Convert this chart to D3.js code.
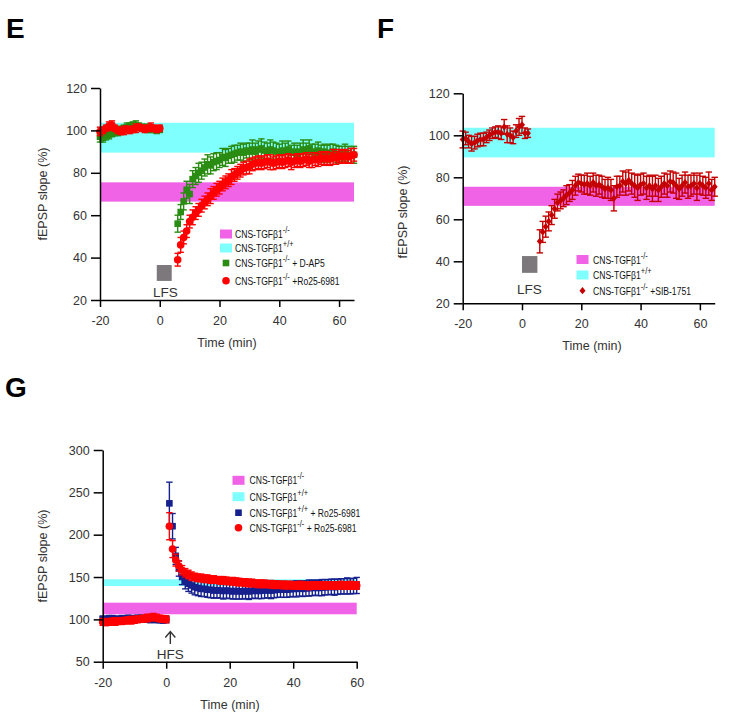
<!DOCTYPE html>
<html><head><meta charset="utf-8">
<script src="https://cdn.jsdelivr.net/npm/d3@7"></script>
<style>body{margin:0;background:#fff}svg{display:block}</style>
</head><body><script>
// ---------------- DATA ----------------
const xTicksEF = [-20, 0, 20, 40, 60];
const yTicksEF = [20, 40, 60, 80, 100, 120];
const xTicksG = [-20, 0, 20, 40, 60];
const yTicksG = [50, 100, 150, 200, 250, 300];

// reference bands [low, high] (% of baseline)
const bandKO_EF = [66.4, 75.5];   // CNS-TGFβ1 -/-
const bandWT_EF = [89.5, 103.6];  // CNS-TGFβ1 +/+
const bandKO_G = [106, 119.7];
const bandWT_G = [139.4, 147.3];

// Panel E
const timeE_pre = d3.range(-20, 1);      // -20 .. 0
const timeE_post = d3.range(6, 66);      // 6 .. 65
const greenE_pre = [97, 96.5, 97.5, 98, 98.5, 99, 99.5, 100.5, 101, 101.5, 102, 102.5, 102.5, 102, 101.5, 101, 101, 100.5, 100.5, 100, 100.5];
const greenE_preErr = [2.5, 2, 2, 2, 1.5, 1.5, 2, 1.5, 1.5, 2, 1.5, 1.5, 2, 1.5, 1.5, 1.5, 2, 1.5, 1.5, 1.5, 1.5];
const greenE_post = [56, 61.5, 66.5, 72, 70, 77, 78.5, 80, 81, 82.5, 84, 83.5, 85, 85.5, 86, 87.5, 87, 88, 88.5, 89, 89.5, 90, 89.5, 90.5, 90, 91, 90, 91, 91.5, 90.5, 90, 91, 90.5, 90, 89.5, 90.5, 90, 91, 89.5, 90, 89, 90, 91, 90, 91.5, 90, 89.5, 90.5, 89, 90, 89, 89.5, 90, 89, 88.5, 89, 89.5, 88.5, 88, 88.5];
const greenE_postErr = [4, 3.5, 4, 4, 4.5, 4, 4, 4.5, 4, 4, 4.5, 4, 4, 4, 3.5, 4, 4, 3.5, 4, 4, 3.5, 4, 4, 3.5, 4, 4.5, 4, 4, 4.5, 4, 4, 4.5, 4, 4, 4, 4.5, 4, 4, 3.5, 4, 4, 4, 4.5, 4, 4, 3.5, 4, 4, 4, 3.5, 4, 4, 3.5, 4, 4, 3.5, 4, 4, 3.5, 4];
const redE_pre = [99.5, 100, 101, 102, 102.5, 101, 100, 99.5, 100, 100.5, 100, 100.5, 101, 101.5, 101, 100.5, 101, 101.5, 101, 100.5, 101];
const redE_preErr = [2, 1.5, 1.5, 2, 2, 1.5, 1.5, 1.5, 2, 1.5, 1.5, 1.5, 2, 1.5, 1.5, 1.5, 1.5, 2, 1.5, 1.5, 1.5];
const redE_post = [39, 46, 49.5, 52.5, 57, 59, 61, 62.5, 64.5, 66, 67.5, 69, 70.5, 72, 73, 74.5, 75.5, 76.5, 78, 79, 80, 81, 82, 82.5, 83, 84, 84.5, 85, 84.5, 85, 85.5, 85, 84.5, 85, 85.5, 85, 85.5, 86, 85, 85.5, 86, 85.5, 86, 86.5, 85.5, 86, 86.5, 86, 87, 86.5, 87, 86.5, 87.5, 87, 88, 87.5, 88, 87.5, 88, 88.5];
const redE_postErr = [3, 3.5, 3, 3, 3, 3.5, 3, 3, 3, 3, 3, 3.5, 3, 3, 3, 3, 3, 3, 3.5, 3, 3, 3, 3, 3, 3.5, 3, 3, 3, 3, 3, 3, 3.5, 3, 3, 3, 3, 3, 3, 3.5, 3, 3, 3, 3, 3, 3, 3.5, 3, 3, 3, 3, 3, 3, 3.5, 3, 3, 3, 3, 3, 3.5, 3];

// Panel F
const timeF_pre = d3.range(-20, 3);      // -20 .. 2
const timeF_post = d3.range(6, 66);
const sibF_pre = [98, 98.5, 97, 96, 96.5, 97.5, 98, 98, 99, 100, 101, 101.5, 101.5, 101, 104, 100.5, 100, 99, 102, 104, 105, 101, 101];
const sibF_preErr = [4, 3, 3, 3.5, 3, 3, 3, 3, 2.5, 2.5, 2.5, 2.5, 3, 3, 3.5, 4, 3.5, 3, 3, 4, 4, 2.5, 2];
const sibF_post = [49.5, 54, 56.5, 59, 62, 65, 68, 69, 70, 71.5, 72.5, 74, 76, 77.5, 77, 76.5, 77, 76, 77.5, 76, 76.5, 75.5, 74.5, 75, 74, 70, 75.5, 76, 78, 77, 78.5, 77, 76, 75, 76.5, 77, 75, 76, 74.5, 76, 74, 75.5, 77, 76, 78, 77.5, 76, 74.5, 76, 77.5, 75.5, 76, 77, 75, 77, 76, 75, 77, 74, 75.5];
const sibF_postErr = [5.5, 5, 5, 4.5, 4.5, 4.5, 4, 4, 4, 4.5, 4, 4.5, 4.5, 4, 4, 4.5, 5, 4.5, 4.5, 5, 4.5, 5, 4.5, 5, 5, 6, 5, 4.5, 5, 5.5, 5, 5, 5.5, 6, 5, 5, 5.5, 5, 6, 5, 5.5, 5, 5, 5.5, 5, 5, 6, 5, 5, 5, 5.5, 5, 5, 6, 5, 4.5, 5, 5.5, 5, 4.5];

// Panel G
const timeG_pre = d3.range(-20, 1);
const timeG_post = d3.range(1, 61);
const blueG_pre = [100, 99.5, 100, 100.5, 100, 99.5, 100, 100, 101, 100.5, 100, 101, 101, 100.5, 101, 100, 100.5, 100, 100, 99.5, 100];
const blueG_preErr = [4, 4, 4.5, 4, 4, 4, 4.5, 4, 4, 4, 4.5, 4, 4, 4, 4.5, 4, 4, 4, 4, 4, 4];
const blueG_post = [237, 210, 175, 160, 150, 145, 142, 140, 138, 137, 136, 136, 135, 135, 134, 134.5, 134, 133.5, 134, 133.5, 133, 133.5, 133, 133, 133.5, 133, 133.5, 134, 133.5, 134, 134, 134.5, 134, 134.5, 135, 135, 135.5, 135, 135.5, 136, 136, 136.5, 136, 136.5, 137, 137, 137.5, 137, 137.5, 138, 138, 138.5, 138, 138.5, 139, 139, 139.5, 139, 139.5, 140];
const blueG_postErr = [25, 15, 10, 9, 9, 9, 9, 9, 9, 9, 9, 9, 9, 9.5, 9, 9, 9, 9.5, 9, 9, 9, 9.5, 9, 9, 9, 9.5, 9, 9, 9, 9.5, 9, 9, 9.5, 9, 9, 9, 9.5, 9, 9, 9, 9.5, 9, 9, 9, 9.5, 9, 9, 9, 9.5, 9, 9, 9, 9.5, 9, 9, 9, 9.5, 9, 9, 9.5];
const redG_pre = [97, 96.5, 97, 97.5, 97.5, 98, 98, 98.5, 99, 99, 99.5, 100, 100.5, 101, 101.5, 102, 103, 102, 101, 100.5, 100];
const redG_preErr = [4, 4, 4, 4, 4.5, 4, 4, 4, 4, 4.5, 4, 4, 4, 4, 4.5, 4, 4, 4, 4, 4, 4];
const redG_post = [210, 183, 170, 163, 158, 155, 153, 151, 150, 149, 149, 148, 148, 147, 147, 146.5, 146, 146, 145.5, 145, 145, 144.5, 144, 144, 143.5, 143, 143, 142.5, 142, 142, 142, 141.5, 141.5, 141, 141, 141, 140.5, 140.5, 140.5, 140, 140, 140.5, 140, 140, 139.5, 140, 140, 139.5, 140, 140, 140, 139.5, 140, 140, 140.5, 140, 140, 140.5, 140, 140];
const redG_postErr = [16, 10, 7, 6, 5.5, 5, 5, 5, 4.5, 4.5, 4.5, 4.5, 4.5, 4.5, 4.5, 4, 4.5, 4.5, 4.5, 4, 4.5, 4.5, 4.5, 4, 4.5, 4.5, 4.5, 4, 4.5, 4.5, 4.5, 4, 4.5, 4.5, 4.5, 4, 4.5, 4.5, 4.5, 4, 4.5, 4.5, 4.5, 4, 4.5, 4.5, 4.5, 4, 4.5, 4.5, 4.5, 4, 4.5, 4.5, 4.5, 4, 4.5, 4.5, 4.5, 4.5];

// legend labels: [main, superscript, suffix]
const legendE = [["CNS-TGFβ1", "-/-", ""], ["CNS-TGFβ1", "+/+", ""], ["CNS-TGFβ1", "-/-", " + D-AP5"], ["CNS-TGFβ1", "-/-", " +Ro25-6981"]];
const legendF = [["CNS-TGFβ1", "-/-", ""], ["CNS-TGFβ1", "+/+", ""], ["CNS-TGFβ1", "-/-", " +SIB-1751"]];
const legendG = [["CNS-TGFβ1", "-/-", ""], ["CNS-TGFβ1", "+/+", ""], ["CNS-TGFβ1", "+/+", " + Ro25-6981"], ["CNS-TGFβ1", "-/-", " + Ro25-6981"]];

// ---------------- DRAWING ----------------
const C = {mag: "#f163e6", cyan: "#80ffff", green: "#2a8c12", red: "#ff0000", dred: "#c40000", blue: "#16218e", gray: "#7d787c", text: "#333"};
const FONT = "'Liberation Sans', Arial, sans-serif";
const svg = d3.select("body").append("svg").attr("width", 729).attr("height", 720).style("font-family", FONT);

function axes(x, y, xt, yt) {
  const gx = svg.append("g").attr("transform", `translate(0,${y.range()[0]})`)
    .call(d3.axisBottom(x).tickValues(xt).tickSize(7).tickSizeOuter(0).tickPadding(9).tickFormat(d => String(d)));
  const gy = svg.append("g").attr("transform", `translate(${x.range()[0]},0)`)
    .call(d3.axisLeft(y).tickValues(yt).tickSize(9).tickSizeOuter(0).tickPadding(4).tickFormat(d => String(d)));
  [gx, gy].forEach(g => {
    g.selectAll("path.domain, line").attr("stroke", "#000").attr("stroke-width", 1.5);
    g.selectAll("text").attr("font-size", 12.5).attr("fill", C.text).attr("font-family", FONT);
  });
}
function titles(xc, yb, ylx, ylc) {
  svg.append("text").attr("x", xc).attr("y", yb).attr("text-anchor", "middle").attr("font-size", 12.5).attr("fill", C.text).text("Time (min)");
  svg.append("text").attr("transform", `translate(${ylx},${ylc}) rotate(-90)`).attr("text-anchor", "middle").attr("dy", "0.35em").attr("font-size", 12.5).attr("fill", C.text).text("fEPSP slope (%)");
}
function band(x, y, x0, x1, b, color) {
  svg.append("rect").attr("x", x(x0)).attr("width", x(x1) - x(x0)).attr("y", y(b[1])).attr("height", y(b[0]) - y(b[1])).attr("fill", color);
}
function series(x, y, t, v, e, color, shape) {
  const d = t.map((ti, i) => ({t: ti, v: v[i], e: e[i]}));
  const g = svg.append("g");
  const eg = g.append("g").attr("stroke", color).attr("stroke-width", 1.4);
  d.forEach(p => {
    const cx = x(p.t), y1 = y(p.v + p.e), y2 = y(p.v - p.e);
    eg.append("line").attr("x1", cx).attr("x2", cx).attr("y1", y1).attr("y2", y2);
    eg.append("line").attr("x1", cx - 3.2).attr("x2", cx + 3.2).attr("y1", y1).attr("y2", y1);
    eg.append("line").attr("x1", cx - 3.2).attr("x2", cx + 3.2).attr("y1", y2).attr("y2", y2);
  });
  d.forEach(p => marker(g, x(p.t), y(p.v), color, shape));
}
function marker(g, cx, cy, color, shape) {
  if (shape === "square") g.append("rect").attr("x", cx - 3.3).attr("y", cy - 3.3).attr("width", 6.6).attr("height", 6.6).attr("fill", color);
  else if (shape === "circle") g.append("circle").attr("cx", cx).attr("cy", cy).attr("r", 3.8).attr("fill", color);
  else if (shape === "diamond") g.append("path").attr("d", `M${cx},${cy - 3.6}L${cx + 3},${cy}L${cx},${cy + 3.6}L${cx - 3},${cy}Z`).attr("fill", color);
  else if (shape === "rect") g.append("rect").attr("x", cx - 6).attr("y", cy - 4.5).attr("width", 12).attr("height", 9).attr("fill", color);
}
function legend(items, symbols, colors, sx, tx, rows) {
  items.forEach((it, i) => {
    marker(svg, sx, rows[i], colors[i], symbols[i]);
    const gg = svg.append("g").attr("transform", `translate(${tx},${rows[i] + 4})`);
    const t = gg.append("text").attr("font-size", 11).attr("fill", "#111").attr("transform", "scale(0.78,1)");
    t.append("tspan").text(it[0]);
    t.append("tspan").attr("dy", -5).attr("font-size", 9.5).text(it[1]);
    if (it[2]) t.append("tspan").attr("dy", 5).text(it[2]);
  });
}
function letter(x, y, s) {
  svg.append("text").attr("x", x).attr("y", y).attr("font-size", 28).attr("font-weight", "bold").attr("fill", "#000").text(s);
}

// ---- Panel E ----
{
  const x = d3.scaleLinear().domain([-20, 65]).range([100, 354]);
  const y = d3.scaleLinear().domain([20, 120]).range([300, 88]);
  band(x, y, -20, 65, bandWT_EF, C.cyan);
  band(x, y, -20, 65, bandKO_EF, C.mag);
  series(x, y, timeE_pre, greenE_pre, greenE_preErr, C.green, "square");
  series(x, y, timeE_post, greenE_post, greenE_postErr, C.green, "square");
  series(x, y, timeE_pre, redE_pre, redE_preErr, C.red, "circle");
  series(x, y, timeE_post, redE_post, redE_postErr, C.red, "circle");
  svg.append("rect").attr("x", x(-1)).attr("y", y(36.5)).attr("width", x(4) - x(-1)).attr("height", y(29) - y(36.5)).attr("fill", C.gray);
  svg.append("text").attr("x", x(1.9)).attr("y", 296.5).attr("text-anchor", "middle").attr("font-size", 13.5).attr("fill", C.text).text("LFS");
  axes(x, y, xTicksEF, yTicksEF);
  titles(227, 347, 43, 194);
  legend(legendE, ["rect", "rect", "square", "circle"], [C.mag, C.cyan, C.green, C.red], 226, 235, [234, 248, 263, 280.7]);
  letter(6, 38, "E");
}
// ---- Panel F ----
{
  const x = d3.scaleLinear().domain([-20, 65]).range([462.7, 714.7]);
  const y = d3.scaleLinear().domain([20, 120]).range([303.3, 93.3]);
  band(x, y, -20, 65, bandWT_EF, C.cyan);
  band(x, y, -20, 65, bandKO_EF, C.mag);
  series(x, y, timeF_pre, sibF_pre, sibF_preErr, C.dred, "diamond");
  series(x, y, timeF_post, sibF_post, sibF_postErr, C.dred, "diamond");
  svg.append("rect").attr("x", x(0)).attr("y", y(42.5)).attr("width", x(5.2) - x(0)).attr("height", y(34.5) - y(42.5)).attr("fill", C.gray);
  svg.append("text").attr("x", 529.5).attr("y", 294).attr("text-anchor", "middle").attr("font-size", 13.5).attr("fill", C.text).text("LFS");
  axes(x, y, xTicksEF, yTicksEF);
  titles(592, 349.5, 403, 212);
  legend(legendF, ["rect", "rect", "diamond"], [C.mag, C.cyan, C.dred], 582.5, 593, [259.5, 275, 290.7]);
  letter(377, 38, "F");
}
// ---- Panel G ----
{
  const x = d3.scaleLinear().domain([-20, 60]).range([102.7, 356.7]);
  const y = d3.scaleLinear().domain([50, 300]).range([661.7, 450]);
  band(x, y, -20, 60, bandWT_G, C.cyan);
  band(x, y, -20, 60, bandKO_G, C.mag);
  series(x, y, timeG_pre, blueG_pre, blueG_preErr, C.blue, "square");
  series(x, y, timeG_post, blueG_post, blueG_postErr, C.blue, "square");
  series(x, y, timeG_pre, redG_pre, redG_preErr, C.red, "circle");
  series(x, y, timeG_post, redG_post, redG_postErr, C.red, "circle");
  const ax = x(1.3);
  svg.append("path").attr("d", `M${ax},644 L${ax},631.5 M${ax - 5},637.5 L${ax},631.5 L${ax + 5},637.5`).attr("fill", "none").attr("stroke", "#333").attr("stroke-width", 1.4);
  svg.append("text").attr("x", ax).attr("y", 658.5).attr("text-anchor", "middle").attr("font-size", 13.5).attr("fill", C.text).text("HFS");
  axes(x, y, xTicksG, yTicksG);
  titles(230, 709, 43, 556);
  legend(legendG, ["rect", "rect", "square", "circle"], [C.mag, C.cyan, C.blue, C.red], 238.5, 249.5, [480.3, 496.7, 512.7, 527.7]);
  letter(5, 397, "G");
}
</script></body></html>
